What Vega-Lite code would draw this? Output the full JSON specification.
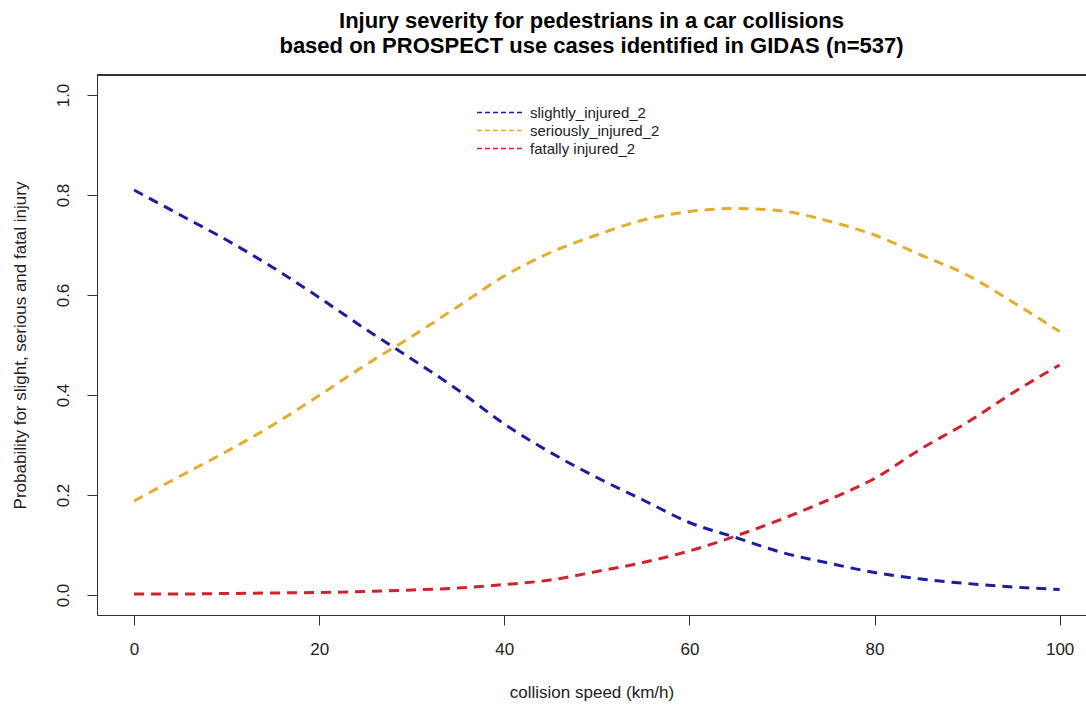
{
  "$schema": "https://vega.github.io/schema/vega-lite/v6.json",
  "width": 989,
  "height": 540,
  "autosize": {"type": "none"},
  "padding": {"left": 97, "top": 75, "right": 0, "bottom": 94},
  "background": "white",
  "title": {
    "text": ["Injury severity for pedestrians in a car collisions", "based on PROSPECT use cases identified in GIDAS (n=537)"],
    "font": "Liberation Sans",
    "fontSize": 22,
    "fontWeight": "bold",
    "color": "black",
    "anchor": "middle",
    "lineHeight": 25,
    "offset": 17
  },
  "config": {
    "view": {"stroke": null},
    "font": "Liberation Sans"
  },
  "data": {
    "values": [
      {"speed": 0, "series": "slightly_injured_2", "p": 0.81},
      {"speed": 5, "series": "slightly_injured_2", "p": 0.76},
      {"speed": 10, "series": "slightly_injured_2", "p": 0.71},
      {"speed": 15, "series": "slightly_injured_2", "p": 0.655},
      {"speed": 20, "series": "slightly_injured_2", "p": 0.595},
      {"speed": 25, "series": "slightly_injured_2", "p": 0.532},
      {"speed": 30, "series": "slightly_injured_2", "p": 0.472},
      {"speed": 35, "series": "slightly_injured_2", "p": 0.41},
      {"speed": 40, "series": "slightly_injured_2", "p": 0.342},
      {"speed": 45, "series": "slightly_injured_2", "p": 0.285},
      {"speed": 50, "series": "slightly_injured_2", "p": 0.235},
      {"speed": 55, "series": "slightly_injured_2", "p": 0.19},
      {"speed": 60, "series": "slightly_injured_2", "p": 0.145},
      {"speed": 65, "series": "slightly_injured_2", "p": 0.115},
      {"speed": 70, "series": "slightly_injured_2", "p": 0.085},
      {"speed": 75, "series": "slightly_injured_2", "p": 0.064},
      {"speed": 80, "series": "slightly_injured_2", "p": 0.045},
      {"speed": 85, "series": "slightly_injured_2", "p": 0.032},
      {"speed": 90, "series": "slightly_injured_2", "p": 0.023},
      {"speed": 95, "series": "slightly_injured_2", "p": 0.016},
      {"speed": 100, "series": "slightly_injured_2", "p": 0.011},
      {"speed": 0, "series": "seriously_injured_2", "p": 0.188},
      {"speed": 5, "series": "seriously_injured_2", "p": 0.238},
      {"speed": 10, "series": "seriously_injured_2", "p": 0.287},
      {"speed": 15, "series": "seriously_injured_2", "p": 0.34},
      {"speed": 20, "series": "seriously_injured_2", "p": 0.399},
      {"speed": 25, "series": "seriously_injured_2", "p": 0.46},
      {"speed": 30, "series": "seriously_injured_2", "p": 0.517},
      {"speed": 35, "series": "seriously_injured_2", "p": 0.577},
      {"speed": 40, "series": "seriously_injured_2", "p": 0.638},
      {"speed": 45, "series": "seriously_injured_2", "p": 0.685},
      {"speed": 50, "series": "seriously_injured_2", "p": 0.72},
      {"speed": 55, "series": "seriously_injured_2", "p": 0.75},
      {"speed": 60, "series": "seriously_injured_2", "p": 0.767},
      {"speed": 65, "series": "seriously_injured_2", "p": 0.773},
      {"speed": 70, "series": "seriously_injured_2", "p": 0.768},
      {"speed": 75, "series": "seriously_injured_2", "p": 0.748},
      {"speed": 80, "series": "seriously_injured_2", "p": 0.72},
      {"speed": 85, "series": "seriously_injured_2", "p": 0.68},
      {"speed": 90, "series": "seriously_injured_2", "p": 0.64},
      {"speed": 95, "series": "seriously_injured_2", "p": 0.585},
      {"speed": 100, "series": "seriously_injured_2", "p": 0.527},
      {"speed": 0, "series": "fatally injured_2", "p": 0.002},
      {"speed": 5, "series": "fatally injured_2", "p": 0.002},
      {"speed": 10, "series": "fatally injured_2", "p": 0.003},
      {"speed": 15, "series": "fatally injured_2", "p": 0.004},
      {"speed": 20, "series": "fatally injured_2", "p": 0.005},
      {"speed": 25, "series": "fatally injured_2", "p": 0.007},
      {"speed": 30, "series": "fatally injured_2", "p": 0.01},
      {"speed": 35, "series": "fatally injured_2", "p": 0.014},
      {"speed": 40, "series": "fatally injured_2", "p": 0.021},
      {"speed": 45, "series": "fatally injured_2", "p": 0.03},
      {"speed": 50, "series": "fatally injured_2", "p": 0.047},
      {"speed": 55, "series": "fatally injured_2", "p": 0.065},
      {"speed": 60, "series": "fatally injured_2", "p": 0.088},
      {"speed": 65, "series": "fatally injured_2", "p": 0.118},
      {"speed": 70, "series": "fatally injured_2", "p": 0.152},
      {"speed": 75, "series": "fatally injured_2", "p": 0.19},
      {"speed": 80, "series": "fatally injured_2", "p": 0.233},
      {"speed": 85, "series": "fatally injured_2", "p": 0.292},
      {"speed": 90, "series": "fatally injured_2", "p": 0.345},
      {"speed": 95, "series": "fatally injured_2", "p": 0.405},
      {"speed": 100, "series": "fatally injured_2", "p": 0.46}
    ]
  },
  "layer": [
    {
      "mark": {"type": "line", "strokeWidth": 3, "strokeDash": [10, 7], "interpolate": "monotone"},
      "encoding": {
        "x": {
          "field": "speed", "type": "quantitative",
          "scale": {"domain": [-4, 102.85], "nice": false, "zero": false},
          "axis": {
            "values": [0, 20, 40, 60, 80, 100],
            "grid": false, "tickSize": 10, "tickColor": "#333", "domainColor": "#333",
            "labelFontSize": 17, "labelColor": "#222", "labelPadding": 16, "labelFlush": false,
            "title": "collision speed (km/h)", "titleFontSize": 17, "titleFontWeight": "normal",
            "titleColor": "#222", "titlePadding": 27
          }
        },
        "y": {
          "field": "p", "type": "quantitative",
          "scale": {"domain": [-0.04, 1.04], "nice": false, "zero": false},
          "axis": {
            "values": [0, 0.2, 0.4, 0.6, 0.8, 1.0], "format": ".1f",
            "grid": false, "tickSize": 10, "tickColor": "#333", "domainColor": "#333",
            "labelFontSize": 17, "labelColor": "#222", "labelAngle": -90, "labelAlign": "center",
            "labelBaseline": "bottom", "labelPadding": 15, "labelFlush": false,
            "title": "Probability for slight, serious and fatal injury", "titleFontSize": 17,
            "titleFontWeight": "normal", "titleColor": "#222", "titlePadding": 25
          }
        },
        "color": {
          "field": "series", "type": "nominal",
          "scale": {
            "domain": ["slightly_injured_2", "seriously_injured_2", "fatally injured_2"],
            "range": ["#1c1ca0", "#e2ac2c", "#d0222c"]
          },
          "legend": {
            "orient": "none", "legendX": 395, "legendY": 30, "title": null,
            "symbolType": "M-4.5,0H4.5", "symbolSize": 100, "symbolStrokeWidth": 1.3,
            "symbolDash": [5, 3], "symbolFillColor": "transparent", "labelFontSize": 15, "labelColor": "#222",
            "labelOffset": 23, "rowPadding": 2
          }
        }
      }
    },
    {
      "mark": {"type": "rule", "color": "#333", "strokeWidth": 1},
      "encoding": {"y": {"datum": 1.04}}
    }
  ]
}
